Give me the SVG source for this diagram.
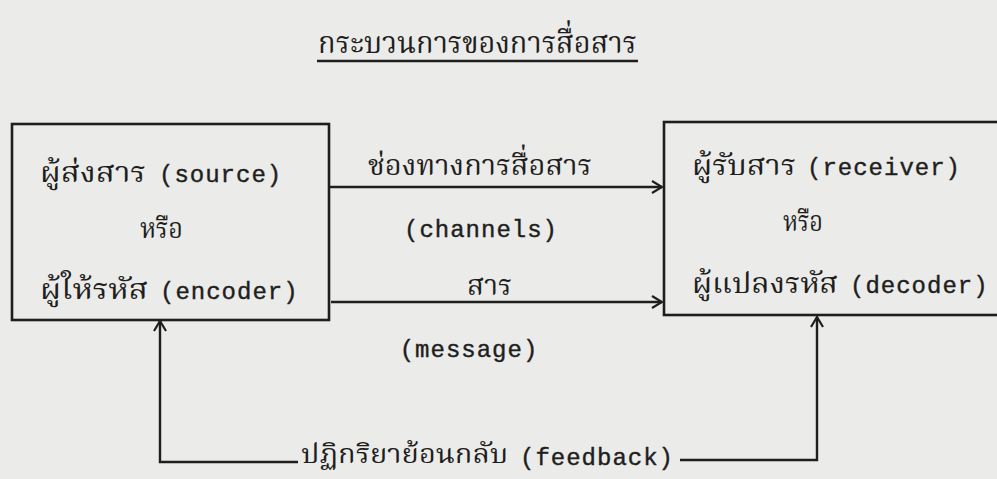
<svg xmlns="http://www.w3.org/2000/svg" width="997" height="479" viewBox="0 0 997 479">
<defs>
<marker id="arr" markerWidth="14" markerHeight="14" refX="12" refY="7" orient="auto" markerUnits="userSpaceOnUse">
<path d="M2,1 L12,7 L2,13" fill="none" stroke="#1e1e1e" stroke-width="2.2"/>
</marker>
</defs>
<style>
.bg{fill:#ebebe9}
.box{fill:none;stroke:#1e1e1e;stroke-width:2.6}
.ln{fill:none;stroke:#1e1e1e;stroke-width:2.4}
.th{font-family:"TlwgTypewriter","Tlwg Typewriter","Noto Serif Thai","Noto Sans Thai Looped","Norasi","Kinnari","Loma","Garuda","Noto Sans Thai","DejaVu Sans",sans-serif;font-size:29px;fill:#1e1e1e}
.en{font-family:"Liberation Mono","Courier New",monospace;font-size:24px;letter-spacing:1px;fill:#1e1e1e;stroke:#1e1e1e;stroke-width:0.4}
.title{font-size:31px}
.fb{font-size:27px}
</style>
<rect class="bg" x="0" y="0" width="997" height="479"/>
<g id="title">
<text class="th title" x="318" y="53" textLength="319" lengthAdjust="spacingAndGlyphs">กระบวนการของการสื่อสาร</text>
<line class="ln" x1="317" y1="61" x2="638" y2="61"/>
</g>
<g id="source">
<rect class="box" x="12" y="124" width="317" height="196"/>
<text class="th" x="40" y="182" textLength="106" lengthAdjust="spacingAndGlyphs">ผู้ส่งสาร</text>
<text class="en" x="159" y="182">(source)</text>
<text class="th" x="140" y="238" textLength="43" lengthAdjust="spacingAndGlyphs">หรือ</text>
<text class="th" x="40" y="299" textLength="108" lengthAdjust="spacingAndGlyphs">ผู้ให้รหัส</text>
<text class="en" x="160" y="299">(encoder)</text>
</g>
<g id="receiver">
<rect class="box" x="664" y="122" width="345" height="193"/>
<text class="th" x="692" y="175" textLength="104" lengthAdjust="spacingAndGlyphs">ผู้รับสาร</text>
<text class="en" x="807" y="175">(receiver)</text>
<text class="th" x="783" y="231" textLength="40" lengthAdjust="spacingAndGlyphs">หรือ</text>
<text class="th" x="692" y="293" textLength="146" lengthAdjust="spacingAndGlyphs">ผู้แปลงรหัส</text>
<text class="en" x="850" y="293">(decoder)</text>
</g>
<g id="connectors">
<line class="ln" x1="330" y1="187" x2="662" y2="187" marker-end="url(#arr)"/>
<line class="ln" x1="331" y1="302" x2="662" y2="302" marker-end="url(#arr)"/>
<path class="ln" d="M298,462 L160,462 L160,321" marker-end="url(#arr)"/>
<path class="ln" d="M680,460 L817,460 L817,317" marker-end="url(#arr)"/>
</g>
<g id="labels">
<text class="th" x="368" y="175" textLength="224" lengthAdjust="spacingAndGlyphs">ช่องทางการสื่อสาร</text>
<text class="en" x="481" y="237" text-anchor="middle">(channels)</text>
<text class="th" x="467" y="295" textLength="45" lengthAdjust="spacingAndGlyphs">สาร</text>
<text class="en" x="469" y="357" text-anchor="middle">(message)</text>
<text class="th fb" x="301" y="463" textLength="207" lengthAdjust="spacingAndGlyphs">ปฏิกริยาย้อนกลับ</text>
<text class="en" x="520" y="465">(feedback)</text>
</g>
</svg>
